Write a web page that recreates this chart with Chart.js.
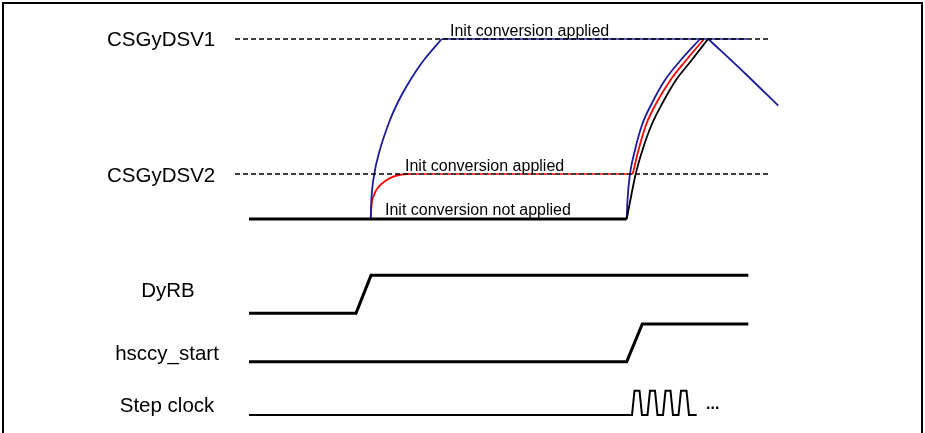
<!DOCTYPE html>
<html><head><meta charset="utf-8">
<script src="https://cdn.jsdelivr.net/npm/chart.js@4"></script>
<style>
html,body{margin:0;padding:0;background:#fff;overflow:hidden;}
#wrap{position:relative;width:925px;height:433px;}
#frame{position:absolute;left:2px;top:2px;width:917px;height:500px;border:2px solid #000;pointer-events:none;}
</style></head><body>
<div id="wrap"><canvas id="c"></canvas><div id="frame"></div></div>
<script>
// ---- signal levels (analog) ----
const LEVEL_BASE = 0;
const LEVEL_DSV2 = 1;
const LEVEL_DSV1 = 4;

// ---- time spans ----
const thresholdT = [-2.8, 104.1];        // dashed CSGyDSV1 / CSGyDSV2 reference lines
const baseT = [0, 75.54];                // initial flat level
const baseV = [0, 0];

// first charge (init conversion applied)
const blueRise1T = [24.34, 24.48, 25.06, 26.04, 28.2, 30.0, 31.46, 33.56, 35.1, 38.54];
const blueRise1V = [0, 0.422, 1.0, 1.482, 2.2, 2.644, 2.94, 3.311, 3.549, 4.0];
const blueHoldT = [38.54, 99.6];
const blueHoldV = [4, 4];
const redRise1T = [24.34, 24.5, 25.0, 25.8, 27.2, 28.86, 30.5, 32.2];
const redRise1V = [0, 0.3, 0.53, 0.7, 0.84, 0.94, 0.985, 1.0];
const redHoldT = [32.2, 76.74];
const redHoldV = [1, 1];

// second charge (after hsccy_start)
const blueRise2T = [75.54, 75.7, 76.2, 77.2, 78.6, 80.6, 83.2, 86.2, 90.2];
const blueRise2V = [0, 0.422, 1.0, 1.533, 2.089, 2.578, 3.089, 3.511, 4.0];
const redRise2T = [76.74, 77.9, 79.4, 81.6, 84.3, 87.3, 91.0];
const redRise2V = [1.0, 1.533, 2.089, 2.6, 3.089, 3.511, 4.0];
const blackRise2T = [75.54, 77.34, 78.7, 80.5, 82.7, 85.4, 88.4, 91.8];
const blackRise2V = [0, 1.0, 1.533, 2.089, 2.578, 3.089, 3.511, 4.0];
const blueFallT = [91.86, 99.54, 105.86];
const blueFallV = [4.0, 3.2, 2.518];

// ---- digital signals (logic 0/1) ----
const dyrbT = [0, 21.4, 24.4, 99.86];
const dyrbV = [0, 0, 1, 1];
const hsccyT = [0, 75.54, 78.66, 99.86];
const hsccyV = [0, 0, 1, 1];
const stepT = [0, 76.6, 77.1, 78.1, 78.6, 79.7, 80.2, 81.2, 81.7, 82.8, 83.3, 84.3, 84.8, 85.9, 86.4, 87.5, 88.0, 89.54];
const stepV = [0, 0, 1, 1, 0, 0, 1, 1, 0, 0, 1, 1, 0, 0, 1, 1, 0, 0];

// ---- texts ----
const laneNames = ['CSGyDSV1', 'CSGyDSV2', 'DyRB', 'hsccy_start', 'Step clock'];
const noteTexts = ['Init conversion applied', 'Init conversion applied', 'Init conversion not applied', '...'];

// ---- layout (positions / styles, not data) ----
const lanes = {
  dyrb:  { base: -2.096, amp: 0.844 },
  hsccy: { base: -3.171, amp: 0.838 },
  step:  { base: -4.356, amp: 0.54 }
};
const BLUE = '#1c1c9a', RED = '#ff0000', BLACK = '#000000';

function pts(T, V) { return T.map((t, i) => ({ x: t, y: V[i] })); }
function lanePts(T, V, lane) { return T.map((t, i) => ({ x: t, y: lane.base + V[i] * lane.amp })); }

const curve = (data, color, w, order) => ({ data, borderColor: color, borderWidth: w, cubicInterpolationMode: 'monotone', pointRadius: 0, fill: false, order });
const straight = (data, color, w, order, dash, dashOff) => ({ data, borderColor: color, borderWidth: w, tension: 0, pointRadius: 0, fill: false, order, borderDash: dash || [], borderDashOffset: dashOff || 0 });

const datasets = [
  straight(pts(thresholdT, [LEVEL_DSV1, LEVEL_DSV1]), BLACK, 1.4, 1, [5, 3]),
  straight(pts(thresholdT, [LEVEL_DSV2, LEVEL_DSV2]), BLACK, 1.4, 3, [5, 3]),
  straight(pts(redHoldT, redHoldV), RED, 1.4, 2, [3, 5], 2),
  straight(pts(blueHoldT, blueHoldV), BLUE, 1.6, 4),
  straight(pts(baseT, baseV), BLACK, 3, 5),
  curve(pts(blueRise1T, blueRise1V), BLUE, 1.8, 6),
  curve(pts(redRise1T, redRise1V), RED, 1.8, 7),
  curve(pts(blackRise2T, blackRise2V), BLACK, 1.8, 8),
  curve(pts(redRise2T, redRise2V), RED, 1.8, 9),
  curve(pts(blueRise2T, blueRise2V), BLUE, 1.8, 10),
  curve(pts(blueFallT, blueFallV), BLUE, 1.8, 11),
  straight(lanePts(dyrbT, dyrbV, lanes.dyrb), BLACK, 3, 12),
  straight(lanePts(hsccyT, hsccyV, lanes.hsccy), BLACK, 3, 13),
  straight(lanePts(stepT, stepV, lanes.step), BLACK, 2, 14)
];

const labels = [
  { text: laneNames[0], t: -28.4, v: LEVEL_DSV1, dy: 7, align: 'left', font: '20.5px' },
  { text: laneNames[1], t: -28.4, v: LEVEL_DSV2, dy: 7.5, align: 'left', font: '20.5px' },
  { text: laneNames[2], t: -16.2, v: lanes.dyrb.base, dy: -16.5, align: 'center', font: '20.5px' },
  { text: laneNames[3], t: -16.4, v: lanes.hsccy.base, dy: -1.5, align: 'center', font: '20.5px' },
  { text: laneNames[4], t: -16.4, v: lanes.step.base, dy: -3.5, align: 'center', font: '20.5px' },
  { text: noteTexts[0], t: 40.2, v: LEVEL_DSV1, dy: -3, align: 'left', font: '16px' },
  { text: noteTexts[1], t: 31.2, v: LEVEL_DSV2, dy: -3.5, align: 'left', font: '16px' },
  { text: noteTexts[2], t: 27.2, v: LEVEL_BASE, dy: -3.5, align: 'left', font: '16px' },
  { text: noteTexts[3], t: 91.4, v: lanes.step.base, dy: -6, align: 'left', font: 'bold 16px' }
];

const textPlugin = {
  id: 'texts',
  afterDatasetsDraw(chart) {
    const { ctx, scales: { x, y } } = chart;
    ctx.save();
    ctx.fillStyle = '#000';
    ctx.textBaseline = 'alphabetic';
    labels.forEach(l => {
      ctx.font = l.font + ' "Liberation Sans", Arial, sans-serif';
      ctx.textAlign = l.align;
      ctx.fillText(l.text, x.getPixelForValue(l.t), y.getPixelForValue(l.v) + l.dy);
    });
    ctx.restore();
  }
};

new Chart(document.getElementById('c'), {
  type: 'line',
  data: { datasets },
  options: {
    responsive: true,
    maintainAspectRatio: false,
    animation: false,
    layout: { padding: 0 },
    plugins: { legend: { display: false }, tooltip: { enabled: false } },
    elements: { point: { radius: 0 } },
    scales: {
      x: { type: 'linear', min: -49.8, max: 135.2, display: false },
      y: { type: 'linear', min: -4.7556, max: 4.8667, display: false }
    }
  },
  plugins: [textPlugin]
});
</script>
</body></html>
